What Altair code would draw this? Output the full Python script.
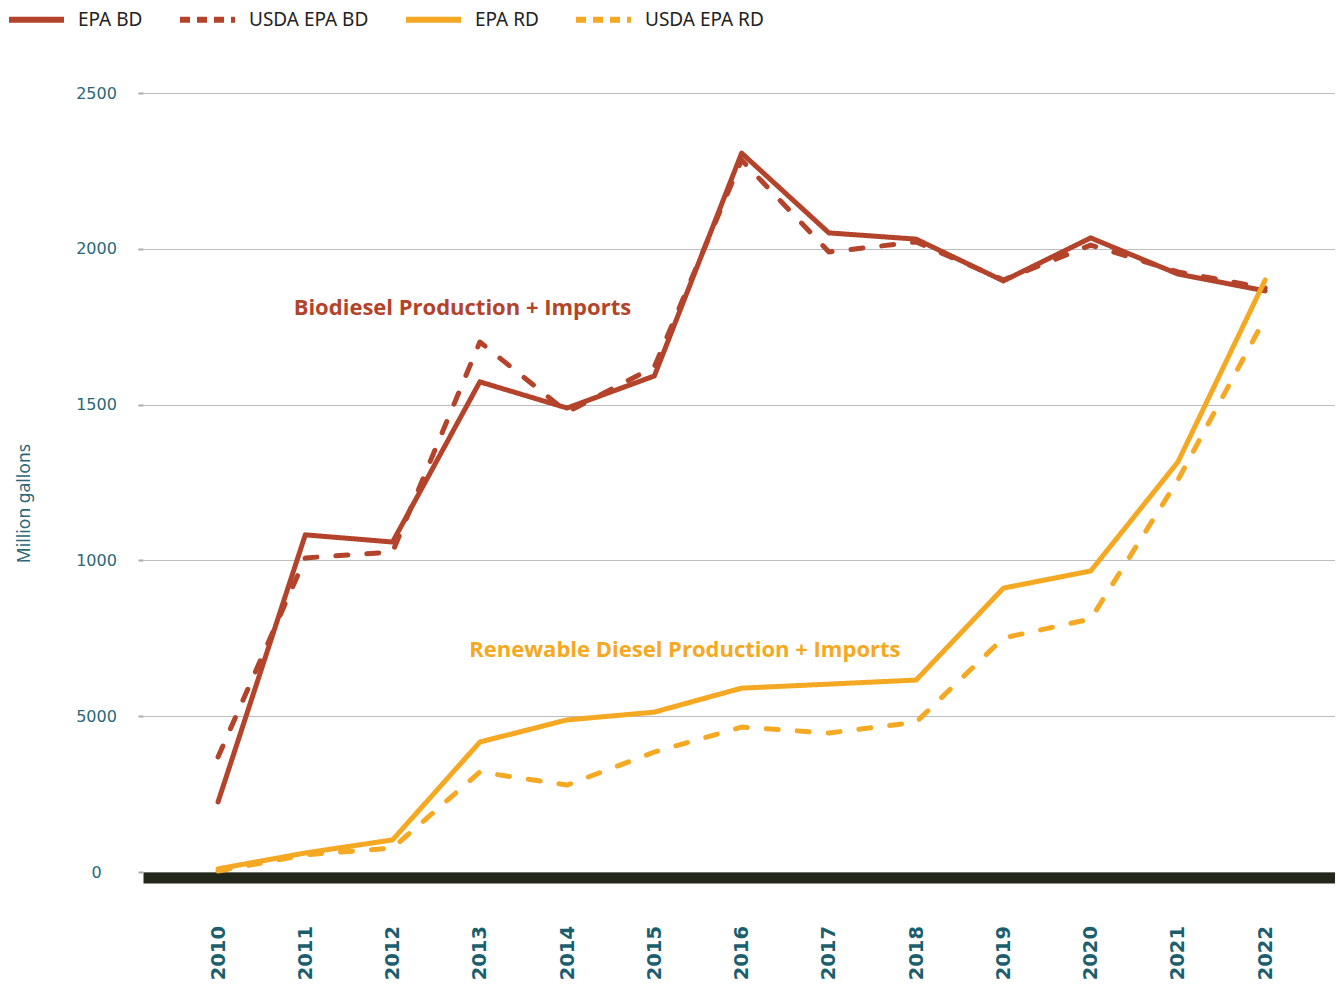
import altair as alt
import pandas as pd

# ---------------- data ----------------
years = list(range(2010, 2023))
epa_bd = [225, 1082, 1059, 1573, 1489, 1592, 2307, 2051, 2031, 1897, 2035, 1919, 1865]
usda_epa_bd = [369, 1008, 1027, 1701, 1476, 1621, 2285, 1990, 2022, 1900, 2012, 1926, 1874]
epa_rd = [10, 61, 103, 417, 488, 513, 590, 603, 616, 911, 966, 1316, 1900]
usda_epa_rd = [3, 55, 77, 321, 279, 385, 465, 446, 481, 751, 812, 1258, 1778]
series_names = ["EPA BD", "USDA EPA BD", "EPA RD", "USDA EPA RD"]

y_tick_values = [0, 500, 1000, 1500, 2000, 2500]
y_tick_labels = ["0", "5000", "1000", "1500", "2000", "2500"]

annotation_text = ["Biodiesel Production + Imports", "Renewable Diesel Production + Imports"]
annotation_year = [2012.8, 2015.35]
annotation_value = [1810, 712]

# ---------------- styles ----------------
BD = "#b4432b"
RD = "#f5a822"
TEAL = "#1b5f6f"
TEAL_LIGHT = "#2a6878"

rows = []
for name, vals in zip(series_names, [epa_bd, usda_epa_bd, epa_rd, usda_epa_rd]):
    for yr, v in zip(years, vals):
        rows.append({"year": yr, "value": v, "series": name})
df = pd.DataFrame(rows)

ann = pd.DataFrame({"text": annotation_text, "year": annotation_year, "value": annotation_value})

label_expr = "".join(
    f"datum.value == {v} ? '{l}' : " for v, l in zip(y_tick_values, y_tick_labels)
) + "datum.label"

x_enc = alt.X(
    "year:Q",
    scale=alt.Scale(domain=[2009.14, 2022.80], nice=False, zero=False),
    axis=alt.Axis(
        values=years, format="d", title=None, grid=False, ticks=False, tickSize=0,
        labelAngle=270, labelAlign="right", labelBaseline="middle",
        labelFont="DejaVu Sans", labelFontWeight="bold", labelFontSize=19.5,
        labelColor=TEAL, labelPadding=48, offset=5.5,
        domainColor="#22261b", domainWidth=11,
    ),
)
y_enc = alt.Y(
    "value:Q",
    scale=alt.Scale(domain=[0, 2500], nice=False),
    axis=alt.Axis(
        values=y_tick_values, labelExpr=label_expr, title="Million gallons",
        domain=False, grid=True, gridColor="#bdbdbd", gridWidth=1.2,
        ticks=True, tickSize=5, tickColor="#aaaaaa", tickWidth=2,
        labelAlign="center", labelBaseline="middle", labelPadding=42,
        labelFont="DejaVu Sans", labelFontSize=16, labelColor=TEAL_LIGHT,
        titleFont="Noto Sans", titleFontSize=17.5, titleFontWeight="normal",
        titleColor=TEAL_LIGHT, titleAngle=270, titleX=-110, titleY=410,
        titleBaseline="bottom", titleAlign="center",
    ),
)

color_range = [BD, BD, RD, RD]

lines = alt.Chart(df).mark_line(strokeWidth=5, strokeCap="round", strokeJoin="round").encode(
    x=x_enc,
    y=y_enc,
    color=alt.Color("series:N", scale=alt.Scale(domain=series_names, range=color_range), legend=None),
    strokeDash=alt.StrokeDash(
        "series:N",
        scale=alt.Scale(domain=series_names, range=[[1, 0], [12, 19], [1, 0], [12, 19]]),
        legend=None,
    ),
    order=alt.Order("year:Q"),
)

legend_def = dict(
    title=None, orient="none", legendX=-137, legendY=-104, direction="horizontal",
    symbolType="stroke", symbolSize=3025, symbolStrokeWidth=6,
    labelFont="Noto Sans", labelFontSize=19, labelColor="#222222",
    labelOffset=11, columnPadding=25,
)

legend_layer = alt.Chart(df).transform_filter("false").mark_line(strokeWidth=6, strokeCap="butt").encode(
    x=alt.X("year:Q"),
    y=alt.Y("value:Q"),
    color=alt.Color("series:N", scale=alt.Scale(domain=series_names, range=color_range),
                    legend=alt.Legend(**legend_def)),
    strokeDash=alt.StrokeDash(
        "series:N",
        scale=alt.Scale(domain=series_names, range=[[1, 0], [10, 7], [1, 0], [10, 7]]),
        legend=alt.Legend(**legend_def),
    ),
)

text_bd = alt.Chart(ann.iloc[[0]]).mark_text(
    font="Open Sans", fontWeight="bold", fontSize=22, color=BD
).encode(x="year:Q", y="value:Q", text="text:N")
text_rd = alt.Chart(ann.iloc[[1]]).mark_text(
    font="Open Sans", fontWeight="bold", fontSize=22, color=RD
).encode(x="year:Q", y="value:Q", text="text:N")

chart = alt.layer(legend_layer, lines, text_bd, text_rd).resolve_scale(
    color="independent", strokeDash="independent"
).properties(
    width=1192, height=779,
    autosize=alt.AutoSizeParams(type="none"),
    padding={"left": 135, "top": 85, "right": 0, "bottom": 108},
).configure_view(stroke=None)

chart.save("out.html", embed_options={"renderer": "svg", "actions": False})
